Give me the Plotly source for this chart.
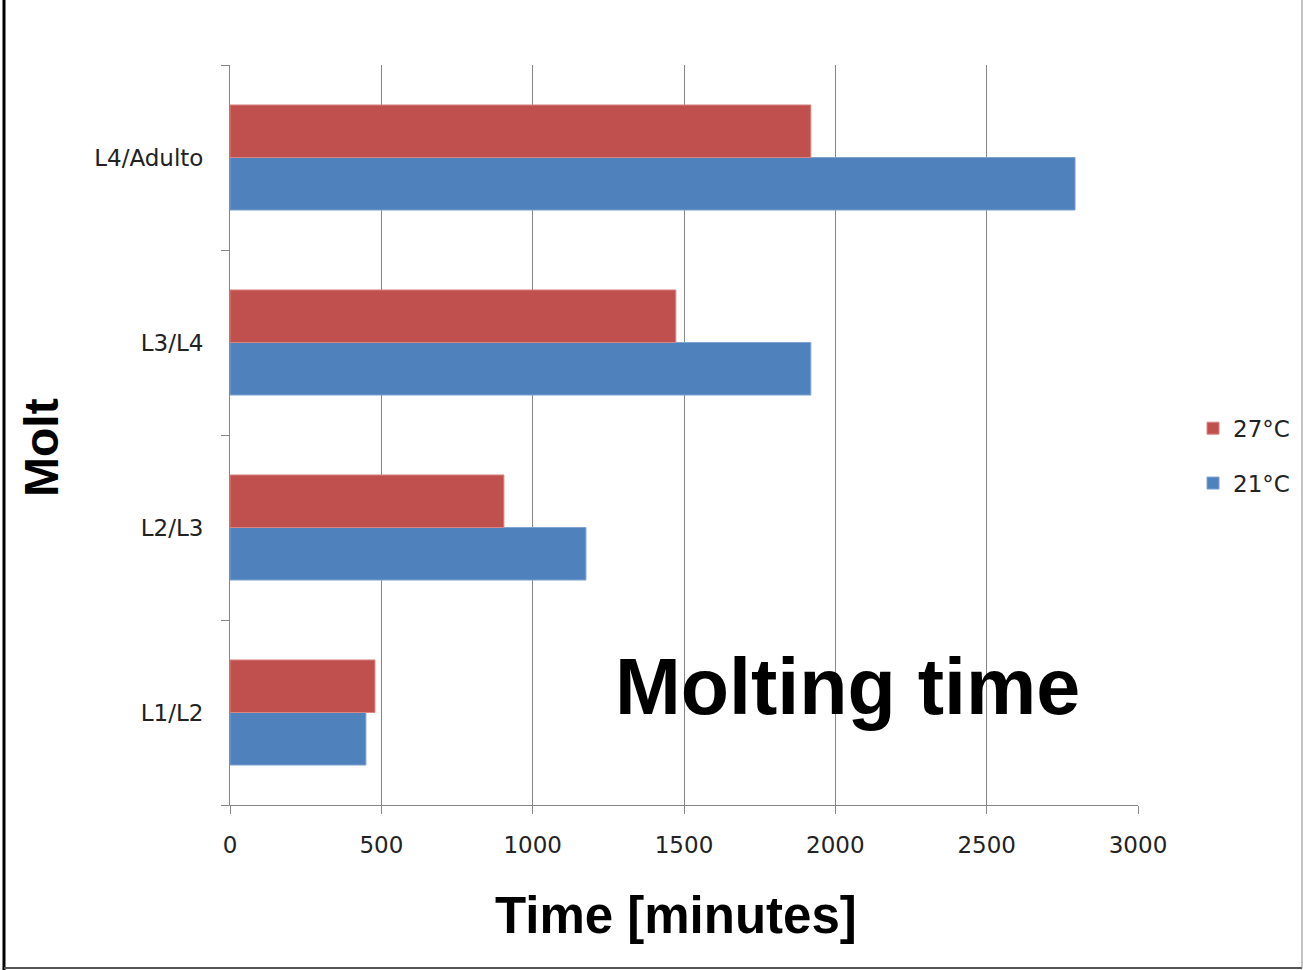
import plotly.graph_objects as go

categories = ["L1/L2", "L2/L3", "L3/L4", "L4/Adulto"]
temp_21 = [449, 1176, 1919, 2792]
temp_27 = [479, 905, 1473, 1919]
x_ticks = [0, 500, 1000, 1500, 2000, 2500, 3000]

AXIS_GRAY = "#868686"
TICK_FONT = dict(family="DejaVu Sans", size=23, color="#222222")

fig = go.Figure()
fig.add_trace(go.Bar(
    y=categories, x=temp_21, orientation="h", name="21°C",
    legendgroup="a", legendrank=2,
    marker=dict(color="#4F81BD", line=dict(color="#7FA3D1", width=1)),
))
fig.add_trace(go.Bar(
    y=categories, x=temp_27, orientation="h", name="27°C",
    legendgroup="b", legendrank=1,
    marker=dict(color="#C0504D", line=dict(color="#D88784", width=1)),
))

fig.update_layout(
    width=1303, height=970,
    margin=dict(l=230, r=165, t=65, b=165, autoexpand=False),
    paper_bgcolor="white", plot_bgcolor="white",
    barmode="group", bargap=0.432, bargroupgap=0,
    showlegend=True,
    legend=dict(
        x=1.0606, y=0.472, xanchor="left", yanchor="middle",
        traceorder="grouped", tracegroupgap=22,
        font=TICK_FONT, bgcolor="rgba(0,0,0,0)",
    ),
    xaxis=dict(
        range=[0, 3000], tickvals=x_ticks, ticktext=[str(v) for v in x_ticks],
        showgrid=True, gridcolor=AXIS_GRAY, gridwidth=1,
        showline=True, linecolor=AXIS_GRAY, linewidth=1,
        ticks="outside", ticklen=8, tickcolor=AXIS_GRAY,
        tickfont=TICK_FONT, ticklabelstandoff=11, zeroline=False,
    ),
    yaxis=dict(
        type="category", categoryorder="array", categoryarray=categories,
        showgrid=False, showline=True, linecolor=AXIS_GRAY, linewidth=1,
        ticks="outside", ticklen=8, tickcolor=AXIS_GRAY, tickson="boundaries",
        tickfont=TICK_FONT, ticklabelstandoff=21,
    ),
    annotations=[
        dict(text="Molting time", x=0.6806, y=0.1604, xref="paper", yref="paper",
             showarrow=False, xanchor="center", yanchor="middle",
             font=dict(family="Liberation Sans", size=79, color="black", weight="bold")),
        dict(text="Time [minutes]", x=0.491, y=-0.149, xref="paper", yref="paper",
             showarrow=False, xanchor="center", yanchor="middle",
             font=dict(family="Liberation Sans", size=51, color="black", weight="bold")),
        dict(text="Molt", x=-0.207, y=0.4825, xref="paper", yref="paper",
             showarrow=False, xanchor="center", yanchor="middle", textangle=-90,
             font=dict(family="Liberation Sans", size=48, color="black", weight="bold")),
    ],
    shapes=[
        # page frame
        dict(type="line", xref="paper", yref="paper", x0=-0.2489, x1=-0.2489,
             y0=-0.23, y1=1.09, line=dict(color="black", width=3)),
        dict(type="line", xref="paper", yref="paper", x0=-0.2489, x1=1.1806,
             y0=-0.2203, y1=-0.2203, line=dict(color="#555555", width=2)),
        dict(type="line", xref="paper", yref="paper", x0=1.1806, x1=1.1806,
             y0=-0.2203, y1=1.09, line=dict(color="#888888", width=1)),
    ],
)

fig.write_html("out.html", config={"displayModeBar": False},
               post_script="document.body.style.margin='0';")
